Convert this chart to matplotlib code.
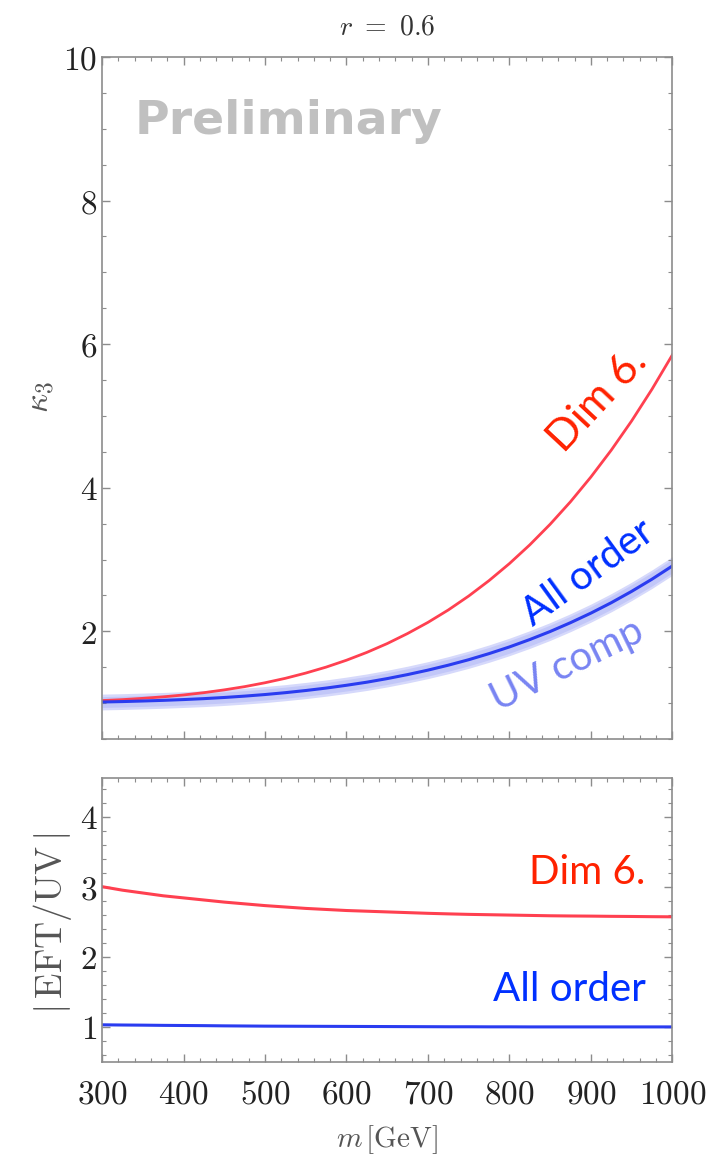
import matplotlib.pyplot as plt
import numpy as np
from matplotlib.ticker import MultipleLocator, FuncFormatter

plt.rcParams['mathtext.fontset'] = 'cm'
plt.rcParams['font.family'] = 'DejaVu Serif'

# data (every 25 GeV)
m = [300, 325, 350, 375, 400, 425, 450, 475, 500, 525, 550, 575, 600, 625, 650,
     675, 700, 725, 750, 775, 800, 825, 850, 875, 900, 925, 950, 975, 1000]
k3_dim6 = [1.035, 1.048, 1.066, 1.087, 1.113, 1.145, 1.184, 1.229, 1.283, 1.345,
           1.418, 1.501, 1.597, 1.706, 1.829, 1.969, 2.124, 2.297, 2.491, 2.706,
           2.943, 3.204, 3.491, 3.805, 4.149, 4.523, 4.930, 5.372, 5.850]
k3_all = [1.015, 1.021, 1.029, 1.038, 1.049, 1.062, 1.078, 1.097, 1.119, 1.145,
          1.175, 1.209, 1.248, 1.291, 1.341, 1.397, 1.459, 1.528, 1.604, 1.689,
          1.782, 1.885, 1.997, 2.120, 2.253, 2.398, 2.556, 2.726, 2.910]
uv_lo = [0.905, 0.911, 0.919, 0.928, 0.939, 0.951, 0.967, 0.986, 1.007, 1.033,
         1.062, 1.096, 1.134, 1.176, 1.225, 1.280, 1.341, 1.409, 1.484, 1.568,
         1.660, 1.762, 1.873, 1.995, 2.127, 2.271, 2.428, 2.597, 2.780]
uv_hi = [1.125, 1.131, 1.139, 1.148, 1.159, 1.173, 1.189, 1.208, 1.231, 1.257,
         1.288, 1.322, 1.362, 1.406, 1.457, 1.514, 1.577, 1.647, 1.724, 1.810,
         1.904, 2.008, 2.121, 2.245, 2.379, 2.525, 2.684, 2.855, 3.040]
ratio_dim6 = [3.00, 2.95, 2.91, 2.87, 2.84, 2.81, 2.78, 2.755, 2.73, 2.71,
              2.69, 2.675, 2.66, 2.65, 2.64, 2.63, 2.62, 2.612, 2.605, 2.60,
              2.595, 2.59, 2.585, 2.582, 2.58, 2.577, 2.575, 2.572, 2.57]
ratio_all = [1.030, 1.027, 1.025, 1.022, 1.020, 1.018, 1.015, 1.013, 1.011, 1.010,
             1.009, 1.008, 1.007, 1.006, 1.005, 1.004, 1.003, 1.002, 1.002, 1.001,
             1.001, 1.000, 1.000, 1.000, 1.000, 1.000, 1.000, 1.000, 1.000]

red_line = '#ff4050'
blue_line = '#2a3cf0'
red_txt = '#ff2200'
blue_txt = '#0030ff'
uv_txt = '#7884f2'
spine_c = '#8c8c8c'

fig = plt.figure(figsize=(7.12, 11.61), dpi=100)
ax1 = fig.add_axes([0.1433, 0.3635, 0.801, 0.5874])
ax2 = fig.add_axes([0.1433, 0.0853, 0.801, 0.2446])

fmt = FuncFormatter(lambda v, p: r'$%d$' % v)

for ax in (ax1, ax2):
    ax.set_xlim(300, 1000)
    ax.xaxis.set_major_locator(MultipleLocator(100))
    ax.xaxis.set_minor_locator(MultipleLocator(20))
    ax.tick_params(which='both', direction='in', top=True, right=True,
                   color=spine_c, labelsize=24, labelcolor='#222222')
    ax.tick_params(which='major', length=6, width=1)
    ax.tick_params(which='minor', length=3, width=0.8)
    for s in ax.spines.values():
        s.set_color(spine_c)
        s.set_linewidth(1.2)
    ax.yaxis.set_major_formatter(fmt)
    ax.xaxis.set_major_formatter(fmt)

# top panel
ax1.fill_between(m, uv_lo, uv_hi, color='#d6d9fb', lw=0)
ax1.fill_between(m, [a + 0.035 for a in uv_lo], [b - 0.035 for b in uv_hi], color='#c2c7f8', lw=0)
ax1.plot(m, k3_dim6, color=red_line, lw=2)
ax1.plot(m, k3_all, color=blue_line, lw=2.2)
ax1.set_ylim(0.5, 10)
ax1.yaxis.set_major_locator(MultipleLocator(2))
ax1.yaxis.set_minor_locator(MultipleLocator(0.5))
ax1.tick_params(labelbottom=False)

ax1.text(0.057, 0.905, 'Preliminary', transform=ax1.transAxes, family='DejaVu Sans',
         fontweight='bold', fontsize=34, color='#c0c0c0', va='center', ha='left')
ax1.text(908, 5.22, 'Dim 6.', family='Lato', fontsize=31, color=red_txt,
         rotation=47, rotation_mode='anchor', ha='center', va='center')
ax1.text(897, 2.81, 'All order', family='Lato', fontsize=29, color=blue_txt,
         rotation=36, rotation_mode='anchor', ha='center', va='center')
ax1.text(871, 1.53, 'UV comp', family='Lato', fontsize=29, color=uv_txt,
         rotation=26, rotation_mode='anchor', ha='center', va='center')

# bottom panel
ax2.plot(m, ratio_dim6, color=red_line, lw=2.2)
ax2.plot(m, ratio_all, color=blue_line, lw=2.2)
ax2.set_ylim(0.5, 4.55)
ax2.yaxis.set_major_locator(MultipleLocator(1))
ax2.yaxis.set_minor_locator(MultipleLocator(0.2))
ax2.tick_params(axis='x', pad=12)
ax2.text(967, 3.2, 'Dim 6.', family='Lato', fontsize=29, color=red_txt, ha='right', va='center')
ax2.text(967, 1.53, 'All order', family='Lato', fontsize=29, color=blue_txt, ha='right', va='center')

fig.text(387 / 712, 1 - 27 / 1161, r'$r\ =\ 0.6$', fontsize=20, ha='center', va='center', color='#333333')
fig.text(40 / 712, 1 - 397 / 1161, r'$\kappa_3$', fontsize=24, ha='center', va='center',
         rotation=90, color='#555555')
fig.text(52 / 712, 1 - 923 / 1161, r'$|\,\mathrm{EFT/UV}\,|$', fontsize=27, ha='center', va='center',
         rotation=90, color='#555555')
fig.text(387 / 712, 1 - 1140 / 1161, r'$m\,[\mathrm{GeV}]$', fontsize=21, ha='center', va='center',
         color='#555555')

fig.savefig('out.png', dpi=100)
